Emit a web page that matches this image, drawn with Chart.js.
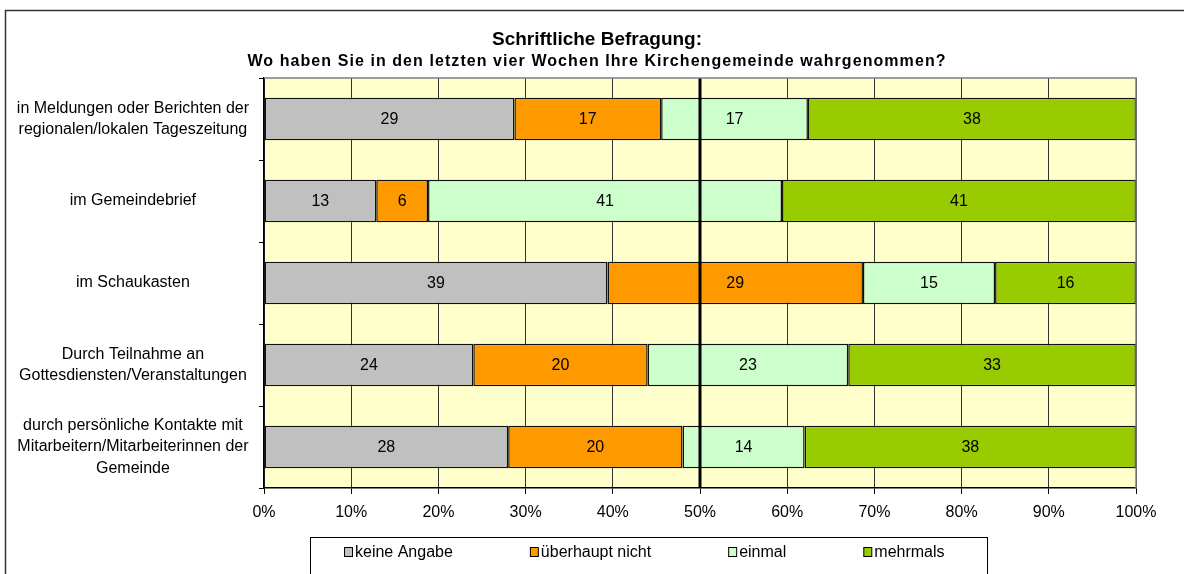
<!DOCTYPE html>
<html>
<head>
<meta charset="utf-8">
<script src="https://cdn.jsdelivr.net/npm/chart.js@4.4.0/dist/chart.umd.min.js"></script>
<style>
html, body { margin: 0; padding: 0; background: #fff; }
canvas { display: block; }
</style>
</head>
<body>
<canvas id="chart" width="1184" height="574"></canvas>
<script>
// Data
const categories = [
    ["in Meldungen oder Berichten der", "regionalen/lokalen Tageszeitung"],
    "im Gemeindebrief",
    "im Schaukasten",
    ["Durch Teilnahme an", "Gottesdiensten/Veranstaltungen"],
    ["durch persönliche Kontakte mit", "Mitarbeitern/Mitarbeiterinnen der", "Gemeinde"]
];
const keineAngabe = [29, 13, 39, 24, 28];
const ueberhauptNicht = [17, 6, 29, 20, 20];
const einmal = [17, 41, 15, 23, 14];
const mehrmals = [38, 41, 16, 33, 38];
const seriesNames = ["keine Angabe", "überhaupt nicht", "einmal", "mehrmals"];
const seriesColors = ["#C0C0C0", "#FF9900", "#CCFFCC", "#99CC00"];
const xTicks = [0, 10, 20, 30, 40, 50, 60, 70, 80, 90, 100];

const titleText = "Schriftliche Befragung:";
const subtitleText = "Wo haben Sie in den letzten vier Wochen Ihre Kirchengemeinde wahrgenommen?";

const FONT = "'Liberation Sans', Arial, sans-serif";

// 100% stacked: each row is scaled to its own total
const allSeries = [keineAngabe, ueberhauptNicht, einmal, mehrmals];
const totals = categories.map((c, i) => allSeries.reduce((s, arr) => s + arr[i], 0));

const datasets = allSeries.map((values, k) => ({
    label: seriesNames[k],
    values: values,
    data: values.map((v, i) => v / totals[i] * 100),
    backgroundColor: seriesColors[k],
    borderColor: "#111",
    borderWidth: 1.5,
    borderSkipped: false,
    barPercentage: 0.52,
    categoryPercentage: 1
}));

// Plot background
const backgroundPlugin = {
    id: "plotBackground",
    beforeDraw(chart) {
        const { ctx, chartArea } = chart;
        ctx.save();
        ctx.fillStyle = "#FFFFCC";
        ctx.fillRect(chartArea.left, chartArea.top, chartArea.width, chartArea.height);
        ctx.restore();
    }
};

// Value labels, 50% line, titles, frame, legend
const overlayPlugin = {
    id: "overlay",
    afterDatasetsDraw(chart) {
        const { ctx, chartArea } = chart;
        const x50 = chart.scales.x.getPixelForValue(50);

        ctx.save();
        ctx.strokeStyle = "#000";
        ctx.lineWidth = 3;
        ctx.beginPath();
        ctx.moveTo(x50, chartArea.top);
        ctx.lineTo(x50, chartArea.bottom);
        ctx.stroke();

        ctx.fillStyle = "#000";
        ctx.font = "16px " + FONT;
        ctx.textAlign = "center";
        ctx.textBaseline = "middle";
        chart.data.datasets.forEach((ds, k) => {
            chart.getDatasetMeta(k).data.forEach((bar, i) => {
                ctx.fillText(ds.values[i], (bar.x + bar.base) / 2, bar.y + 1);
            });
        });
        ctx.restore();
    },
    afterDraw(chart) {
        const { ctx, chartArea } = chart;
        ctx.save();

        // plot border top/right
        ctx.strokeStyle = "#808080";
        ctx.lineWidth = 1.5;
        ctx.beginPath();
        ctx.moveTo(chartArea.left, chartArea.top);
        ctx.lineTo(chartArea.right, chartArea.top);
        ctx.lineTo(chartArea.right, chartArea.bottom);
        ctx.stroke();

        // outer frame
        ctx.strokeStyle = "#333";
        ctx.lineWidth = 1.5;
        ctx.beginPath();
        ctx.moveTo(5.5, chart.height);
        ctx.lineTo(5.5, 10.5);
        ctx.lineTo(chart.width, 10.5);
        ctx.stroke();

        // titles
        const cx = 597;
        ctx.fillStyle = "#000";
        ctx.textAlign = "center";
        ctx.textBaseline = "middle";
        ctx.font = "bold 19px " + FONT;
        ctx.fillText(titleText, cx, 40);
        ctx.font = "bold 16px " + FONT;
        const w = ctx.measureText(subtitleText).width;
        ctx.letterSpacing = Math.max(0, (699 - w) / subtitleText.length).toFixed(2) + "px";
        ctx.fillText(subtitleText, cx, 62);
        ctx.letterSpacing = "0px";

        // legend
        ctx.strokeStyle = "#000";
        ctx.lineWidth = 1;
        ctx.fillStyle = "#fff";
        ctx.fillRect(310.5, 537.5, 677, 50);
        ctx.strokeRect(310.5, 537.5, 677, 50);
        ctx.font = "16px " + FONT;
        ctx.textAlign = "left";
        let x = 344;
        const y = 552;
        chart.data.datasets.forEach(ds => {
            ctx.fillStyle = ds.backgroundColor;
            ctx.fillRect(x + 0.5, y - 4.5, 8, 9);
            ctx.strokeStyle = "#000";
            ctx.strokeRect(x + 0.5, y - 4.5, 8, 9);
            ctx.fillStyle = "#000";
            ctx.fillText(ds.label, x + 11, y + 1);
            x += 11 + ctx.measureText(ds.label).width + 77;
        });

        ctx.restore();
    }
};

new Chart(document.getElementById("chart"), {
    type: "bar",
    data: { labels: categories, datasets: datasets },
    options: {
        indexAxis: "y",
        responsive: false,
        animation: false,
        layout: { padding: { top: 78, right: 48, left: 0, bottom: 44 } },
        plugins: {
            legend: { display: false },
            title: { display: false },
            tooltip: { enabled: false }
        },
        scales: {
            x: {
                type: "linear",
                stacked: true,
                min: 0,
                max: 100,
                afterBuildTicks: s => { s.ticks = xTicks.map(v => ({ value: v })); },
                afterFit: s => { s.height = 42; },
                ticks: {
                    color: "#000",
                    font: { family: FONT, size: 16 },
                    padding: 9,
                    callback: v => v + "%"
                },
                grid: {
                    color: "#333",
                    lineWidth: 1,
                    tickLength: 6,
                    tickColor: "#000"
                },
                border: { color: "#000", width: 1.5 }
            },
            y: {
                stacked: true,
                offset: true,
                afterFit: s => { s.width = 264; },
                ticks: {
                    color: "#000",
                    font: { family: FONT, size: 16, lineHeight: 1.35 },
                    crossAlign: "center",
                    padding: 10
                },
                grid: {
                    offset: true,
                    drawOnChartArea: false,
                    tickLength: 5,
                    color: "#000"
                },
                border: { color: "#000", width: 1.5 }
            }
        }
    },
    plugins: [backgroundPlugin, overlayPlugin]
});
</script>
</body>
</html>
